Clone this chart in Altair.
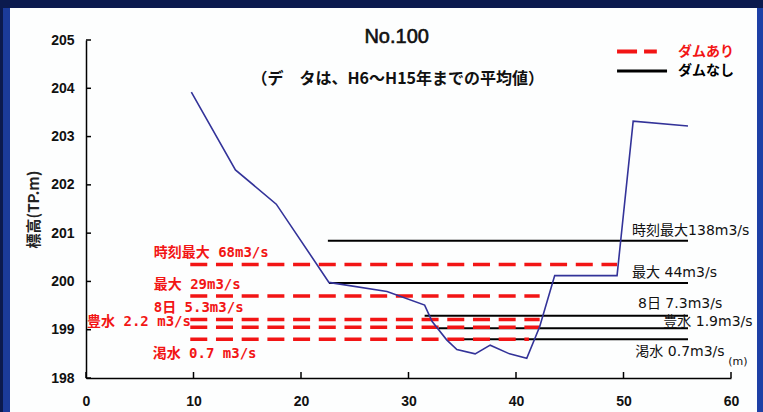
import altair as alt
import pandas as pd

# ---- river cross-section profile (distance m, elevation TP.m) ----
profile_x = [9.8, 13.9, 17.7, 22.6, 28.0, 31.5, 32.2, 33.55, 34.5, 36.2, 37.6, 39.4, 41.0, 42.2, 43.6, 49.4, 50.9, 56.0]
profile_y = [203.92, 202.31, 201.60, 199.98, 199.79, 199.51, 199.17, 198.79, 198.59, 198.50, 198.68, 198.50, 198.41, 199.06, 200.12, 200.12, 203.32, 203.22]

# ---- water levels with dam (red dashed) ----
dam_level = [200.35, 199.70, 199.21, 199.05, 198.80]
dam_from = [9.7, 9.7, 9.7, 9.7, 9.7]
dam_to = [49.4, 42.2, 42.2, 42.2, 41.2]
dam_text = ["時刻最大 68m3/s", "最大 29m3/s", "8日 5.3m3/s", "豊水 2.2 m3/s", "渇水 0.7 m3/s"]
dam_text_x = [6.3, 6.3, 6.3, 0.1, 6.2]
dam_text_y = [200.59, 199.93, 199.45, 199.15, 198.50]

# ---- water levels without dam (black solid) ----
nodam_level = [200.84, 199.97, 199.29, 199.03, 198.80]
nodam_from = [22.5, 22.6, 31.5, 32.8, 34.8]
nodam_to = [56.0, 56.0, 56.0, 56.0, 56.0]
nodam_text = ["時刻最大138m3/s", "最大 44m3/s", "8日 7.3m3/s", "豊水 1.9m3/s", "渇水 0.7m3/s"]
nodam_text_x = [50.8, 50.8, 51.35, 53.7, 51.1]
nodam_text_y = [201.05, 200.17, 199.53, 199.17, 198.54]

# ---- legend ----
legend_names = ["ダムあり", "ダムなし"]
legend_from = [49.4, 49.4]
legend_to = [53.1, 54.05]
legend_y = [204.76, 204.36]
legend_text_x = [55.07, 55.07]

# ---- titles / axis ----
title_text = "No.100"
subtitle_text = "（デ　タは、H6～H15年までの平均値）"
title_x = [28.9, 29.0]
title_y = [205.07, 204.19]
unit_text = "(m)"
unit_x = 60.65
unit_y = 198.34
x_ticks = [0, 10, 20, 30, 40, 50, 60]
y_ticks = [198, 199, 200, 201, 202, 203, 204, 205]
y_title = "標高(TP.m)"

RED = "#f21515"
BLUE = "#333399"
JP = "Noto Sans CJK JP"

xscale = alt.Scale(domain=[0, 60], nice=False, zero=False)
yscale = alt.Scale(domain=[198, 205], nice=False, zero=False)
xaxis = alt.Axis(values=x_ticks, format="d", title=None, grid=False, ticks=False,
                 domainColor="black", domainWidth=1.5, labelFont="Liberation Sans",
                 labelFontSize=14, labelFontWeight="bold", labelColor="#111",
                 labelPadding=16, labelFlush=False, labelOverlap=False, zindex=1)
yaxis = alt.Axis(values=y_ticks, format="d", title=y_title, grid=False, ticks=False,
                 domainColor="black", domainWidth=1.5, labelFont="Liberation Sans",
                 labelFontSize=14, labelFontWeight="bold", labelColor="#111",
                 labelPadding=12, labelFlush=False, labelOverlap=False,
                 titleFont=JP, titleFontSize=15, titleFontWeight="bold",
                 titleColor="#222", titlePadding=9, zindex=1)


def X(f):
    return alt.X(f, type="quantitative", scale=xscale, axis=xaxis)


def Y(f):
    return alt.Y(f, type="quantitative", scale=yscale, axis=yaxis)


one = pd.DataFrame({"k": [0]})

panel = alt.Chart(one).mark_rect(color="#fdfefe").encode(
    x=alt.value(-76), x2=alt.value(671), y=alt.value(-32), y2=alt.value(390))
left_strip = alt.Chart(one).mark_rect(color="#1b3b9a").encode(
    x=alt.value(-83), x2=alt.value(-76), y=alt.value(-32), y2=alt.value(390))
right_strip = alt.Chart(one).mark_rect(color="#1d40a6").encode(
    x=alt.value(671), x2=alt.value(690), y=alt.value(-32), y2=alt.value(390))

prof = pd.DataFrame({"x": profile_x, "y": profile_y, "o": list(range(len(profile_x)))})
dam = pd.DataFrame({"x1": dam_from, "x2": dam_to, "y": dam_level,
                    "t": dam_text, "tx": dam_text_x, "ty": dam_text_y})
nodam = pd.DataFrame({"x1": nodam_from, "x2": nodam_to, "y": nodam_level,
                      "t": nodam_text, "tx": nodam_text_x, "ty": nodam_text_y})
leg = pd.DataFrame({"n": legend_names, "x1": legend_from, "x2": legend_to,
                    "y": legend_y, "tx": legend_text_x})
ttl = pd.DataFrame({"t": [title_text, subtitle_text], "x": title_x, "y": title_y})
xt = pd.DataFrame({"v": x_ticks})
yt = pd.DataFrame({"v": y_ticks})
unit = pd.DataFrame({"t": [unit_text], "x": [unit_x], "y": [unit_y]})

black_rules = alt.Chart(nodam).mark_rule(color="black", strokeWidth=2).encode(
    x=X("x1"), x2="x2", y=Y("y"))
red_rules = alt.Chart(dam).mark_rule(color=RED, strokeWidth=3.5, strokeDash=[17, 8.7]).encode(
    x=X("x1"), x2="x2", y=Y("y"))
profile = alt.Chart(prof).mark_line(color=BLUE, strokeWidth=1.6).encode(
    x=X("x"), y=Y("y"), order="o")

xtick_marks = alt.Chart(xt).mark_rule(color="black", strokeWidth=1.5).encode(
    x=X("v"), y=alt.value(332), y2=alt.value(338))
ytick_marks = alt.Chart(yt).mark_rule(color="black", strokeWidth=1.5).encode(
    y=Y("v"), x=alt.value(0), x2=alt.value(5))

red_labels = alt.Chart(dam).mark_text(align="left", baseline="middle", color=RED,
                                      font="DejaVu Sans Mono, " + JP, fontSize=14,
                                      fontWeight="bold").encode(
    x=X("tx"), y=Y("ty"), text="t")
black_labels = alt.Chart(nodam).mark_text(align="left", baseline="middle", color="#111",
                                          font="DejaVu Sans, " + JP, fontSize=14).encode(
    x=X("tx"), y=Y("ty"), text="t")

leg_red = alt.Chart(leg[leg.n == legend_names[0]]).mark_rule(color=RED, strokeWidth=4, strokeDash=[20, 7]).encode(
    x=X("x1"), x2="x2", y=Y("y"))
leg_black = alt.Chart(leg[leg.n == legend_names[1]]).mark_rule(color="black", strokeWidth=3).encode(
    x=X("x1"), x2="x2", y=Y("y"))
leg_text = alt.Chart(leg).mark_text(align="left", baseline="middle", font=JP, fontSize=14,
                                    fontWeight="bold").encode(
    x=X("tx"), y=Y("y"), text="n",
    color=alt.Color("n", scale=alt.Scale(domain=legend_names, range=[RED, "black"]), legend=None))

title_main = alt.Chart(ttl.iloc[[0]]).mark_text(align="center", baseline="middle", font="Liberation Sans",
                                                fontSize=20, color="#111", stroke="#111",
                                                strokeWidth=0.6).encode(
    x=X("x"), y=Y("y"), text="t")
title_sub = alt.Chart(ttl.iloc[[1]]).mark_text(align="center", baseline="middle", font=JP,
                                               fontSize=16, fontWeight="bold", color="#111").encode(
    x=X("x"), y=Y("y"), text="t")
unit_label = alt.Chart(unit).mark_text(align="center", baseline="middle", font="DejaVu Sans",
                                       fontSize=11, color="#111").encode(
    x=X("x"), y=Y("y"), text="t")

chart = alt.layer(
    panel, left_strip, right_strip,
    black_rules, red_rules, profile,
    xtick_marks, ytick_marks,
    red_labels, black_labels,
    leg_red, leg_black, leg_text,
    title_main, title_sub, unit_label,
).properties(
    width=645, height=338,
    autosize=alt.AutoSizeParams(type="none"),
    padding={"left": 86, "top": 40, "right": 32, "bottom": 34},
    background="#0b1a4e",
).configure_view(stroke=None)

chart.save("out.html", embed_options={"renderer": "svg", "actions": False})
